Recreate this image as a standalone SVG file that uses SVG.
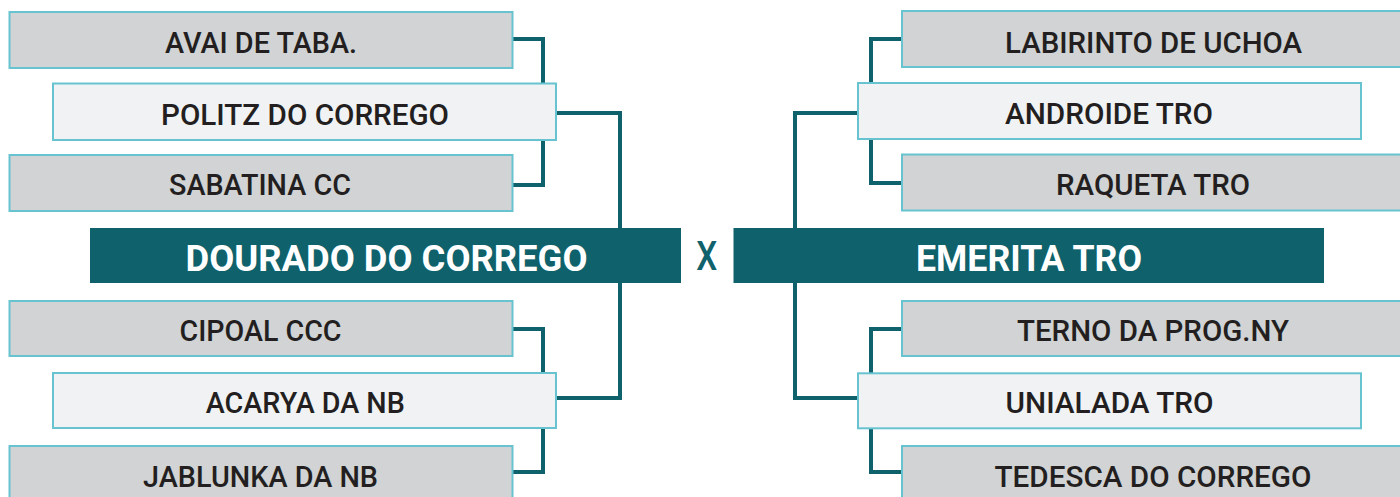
<svg xmlns="http://www.w3.org/2000/svg" width="1400" height="497" viewBox="0 0 1400 497">
<style>
.g{fill:#d1d3d4;stroke:#67c3cf;stroke-width:2}
.l{fill:#f1f2f4;stroke:#67c3cf;stroke-width:2}
.m{fill:#0f616b}
.t{font-family:Roboto,"Liberation Sans",sans-serif;font-weight:500;font-size:30px;fill:#231f20;text-anchor:middle}
.w{font-family:Roboto,"Liberation Sans",sans-serif;font-weight:700;font-size:36px;fill:#ffffff;text-anchor:middle}
.x{font-family:Roboto,"Liberation Sans",sans-serif;font-weight:500;font-size:41px;fill:#0f616b;text-anchor:middle}
.c{fill:none;stroke:#0f616b;stroke-width:4;stroke-linejoin:miter;stroke-linecap:butt}
</style>
<rect width="1400" height="497" fill="#ffffff"/>
<g id="connectors">
<polyline class="c" points="512,39 543,39 543,185 512,185"/>
<polyline class="c" points="556,113 620,113 620,229"/>
<polyline class="c" points="512,329 543,329 543,472 512,472"/>
<polyline class="c" points="556,398 620,398 620,283"/>
<polyline class="c" points="902,39 871,39 871,183 902,183"/>
<polyline class="c" points="858,113 795,113 795,229"/>
<polyline class="c" points="902,329 871,329 871,472 902,472"/>
<polyline class="c" points="858,398 795,398 795,283"/>
</g>
<g id="avai"><rect class="g" x="9.5" y="12" width="503" height="56"/><text class="t" x="261" y="53.3" textLength="192" lengthAdjust="spacingAndGlyphs">AVAI DE TABA.</text></g>
<g id="politz"><rect class="l" x="53" y="83.5" width="503" height="56.5"/><text class="t" x="305" y="125" textLength="288" lengthAdjust="spacingAndGlyphs">POLITZ DO CORREGO</text></g>
<g id="sabatina"><rect class="g" x="9.5" y="155" width="503" height="56"/><text class="t" x="260" y="195" textLength="182" lengthAdjust="spacingAndGlyphs">SABATINA CC</text></g>
<g id="dourado"><rect class="m" x="90" y="228" width="591" height="55"/><text class="w" x="386.5" y="270.7" textLength="402" lengthAdjust="spacingAndGlyphs">DOURADO DO CORREGO</text></g>
<g id="versus"><text class="x" x="706.7" y="270" textLength="21" lengthAdjust="spacingAndGlyphs">X</text></g>
<g id="emerita"><rect class="m" x="733.5" y="228" width="590.5" height="55"/><text class="w" x="1029" y="270.7" textLength="226" lengthAdjust="spacingAndGlyphs">EMERITA TRO</text></g>
<g id="cipoal"><rect class="g" x="9.5" y="301" width="503" height="55"/><text class="t" x="260.5" y="340.7" textLength="162" lengthAdjust="spacingAndGlyphs">CIPOAL CCC</text></g>
<g id="acarya"><rect class="l" x="53" y="373" width="503" height="55"/><text class="t" x="305.3" y="413.3" textLength="199" lengthAdjust="spacingAndGlyphs">ACARYA DA NB</text></g>
<g id="jablunka"><rect class="g" x="9.5" y="446" width="503" height="56"/><text class="t" x="260.5" y="486.7" textLength="235" lengthAdjust="spacingAndGlyphs">JABLUNKA DA NB</text></g>
<g id="labirinto"><rect class="g" x="902" y="11" width="503" height="56"/><text class="t" x="1153.5" y="52.5" textLength="297" lengthAdjust="spacingAndGlyphs">LABIRINTO DE UCHOA</text></g>
<g id="androide"><rect class="l" x="858" y="83" width="503" height="56"/><text class="t" x="1109" y="123.5" textLength="208" lengthAdjust="spacingAndGlyphs">ANDROIDE TRO</text></g>
<g id="raqueta"><rect class="g" x="902" y="154.5" width="503" height="56"/><text class="t" x="1153" y="195" textLength="194" lengthAdjust="spacingAndGlyphs">RAQUETA TRO</text></g>
<g id="terno"><rect class="g" x="902" y="301" width="503" height="55"/><text class="t" x="1153" y="340.7" textLength="272" lengthAdjust="spacingAndGlyphs">TERNO DA PROG.NY</text></g>
<g id="unialada"><rect class="l" x="858" y="373.3" width="503" height="55"/><text class="t" x="1109.6" y="413.3" textLength="208" lengthAdjust="spacingAndGlyphs">UNIALADA TRO</text></g>
<g id="tedesca"><rect class="g" x="902" y="446" width="503" height="56"/><text class="t" x="1153" y="486.7" textLength="317" lengthAdjust="spacingAndGlyphs">TEDESCA DO CORREGO</text></g>
</svg>
